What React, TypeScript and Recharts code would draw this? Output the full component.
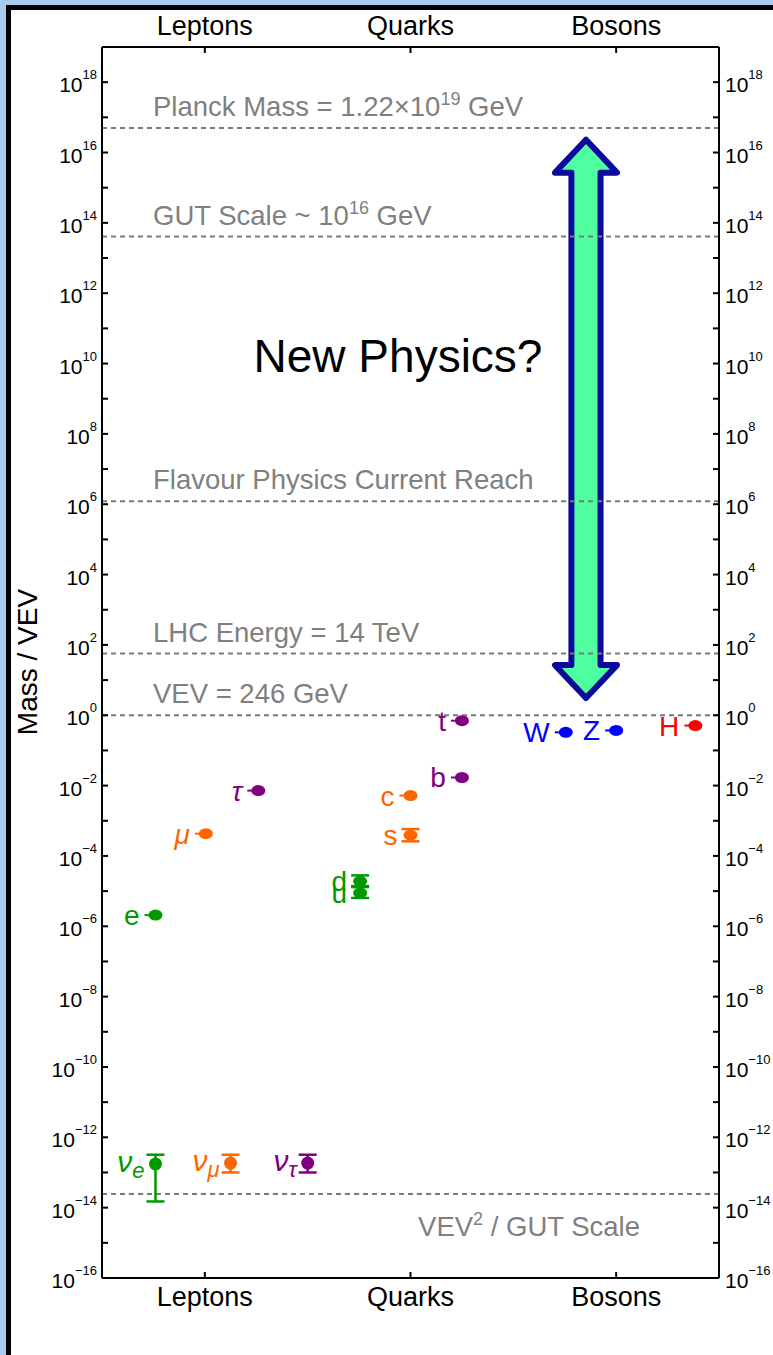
import {
  ErrorBar,
  ReferenceArea,
  ReferenceLine,
  Scatter,
  ScatterChart,
  XAxis,
  YAxis,
} from "recharts";

const FONT = "'Liberation Sans', Arial, sans-serif";

// columns of the plot
const categories = ["Leptons", "Quarks", "Bosons"];
const categorySlots = [1, 3, 5];

// decades drawn on the mass axis (labels on even ones)
const decades = [
  -16, -15, -14, -13, -12, -11, -10, -9, -8, -7, -6, -5, -4, -3, -2, -1, 0, 1,
  2, 3, 4, 5, 6, 7, 8, 9, 10, 11, 12, 13, 14, 15, 16, 17, 18,
];

// particles
const particleLabels = ["e", "μ", "τ", "ν_e", "ν_μ", "ν_τ", "d", "u", "s", "c", "b", "t", "W", "Z", "H"];
const particleSlots = [0.52, 1.01, 1.52, 0.52, 1.25, 2.0, 2.51, 2.51, 3.0, 3.0, 3.5, 3.5, 4.51, 5.0, 5.77];
const massOverVev = [
  2.08e-6, 4.3e-4, 7.2e-3, 1.75e-13, 1.85e-13, 1.85e-13, 1.9e-5, 8.9e-6,
  3.9e-4, 5.2e-3, 1.7e-2, 0.7, 0.327, 0.37, 0.51,
];
const errDown = [0, 0, 0, 1.6e-13, 0.85e-13, 0.85e-13, 0.6e-5, 2.5e-6, 1.3e-4, 0, 0, 0, 0, 0, 0];
const errUp = [0, 0, 0, 1.45e-13, 1.35e-13, 1.35e-13, 0.9e-5, 5e-6, 1.9e-4, 0, 0, 0, 0, 0, 0];
const particleFamily = [
  "green", "orange", "purple", "green", "orange", "purple", "green", "green",
  "orange", "orange", "purple", "purple", "blue", "blue", "red",
];

const families = ["green", "orange", "purple", "blue", "red"];
const familyColour: Record<string, string> = {
  green: "#009a00",
  orange: "#ff6400",
  purple: "#800080",
  blue: "#0000ff",
  red: "#ff0000",
};

// energy scales (horizontal dashed lines)
const scaleLabels = [
  "Planck Mass = 1.22×10^{19} GeV",
  "GUT Scale ~ 10^{16} GeV",
  "Flavour Physics Current Reach",
  "LHC Energy = 14 TeV",
  "VEV = 246 GeV",
  "VEV^{2} / GUT Scale",
];
const scaleValues = [4.96e16, 4.07e13, 1.22e6, 56.9, 1, 2.46e-14];

// the "new physics" double arrow
const arrowSlots = [4.405, 5.008];
const arrowRange = [3.1, 2.3e16];

const rows = particleLabels.map((label, i) => ({
  label,
  x: particleSlots[i],
  y: massOverVev[i],
  err: errDown[i] || errUp[i] ? [errDown[i], errUp[i]] : undefined,
  family: particleFamily[i],
  colour: familyColour[particleFamily[i]],
}));

function expText(exp: number) {
  return exp < 0 ? `\u2212${-exp}` : `${exp}`;
}

/** split "abc^{12} def" into normal / superscript tspans */
function withSuperscripts(s: string, size: number, supSize: number, lift: number) {
  const parts = s.split(/\^\{([^}]*)\}/);
  return parts.map((p, i) =>
    i % 2 === 1 ? (
      <tspan key={i} dy={-lift} fontSize={supSize}>
        {p}
      </tspan>
    ) : (
      <tspan key={i} dy={i === 0 ? 0 : lift} fontSize={size}>
        {p}
      </tspan>
    ),
  );
}

function MassTick(props: any) {
  const { x, y, payload, side } = props;
  const exp = Math.round(Math.log10(payload.value));
  const left = side === "left";
  return (
    <g>
      <line x1={x} x2={x + (left ? 6 : -6)} y1={y} y2={y} stroke="#000" strokeWidth={2} />
      {exp % 2 === 0 && (
        <text
          x={left ? x - 5 : x + 6}
          y={y + 10}
          textAnchor={left ? "end" : "start"}
          fontSize={21}
          fontFamily={FONT}
          fill="#000"
        >
          10
          <tspan dy={-13} fontSize={13}>
            {expText(exp)}
          </tspan>
        </text>
      )}
    </g>
  );
}

function CategoryTick(props: any) {
  const { x, y, payload, side } = props;
  const top = side === "top";
  const name = categories[categorySlots.indexOf(payload.value)];
  return (
    <g>
      <line x1={x} x2={x} y1={y} y2={y + (top ? 6 : -6)} stroke="#000" strokeWidth={2} />
      <text x={x} y={top ? y - 12 : y + 28} textAnchor="middle" fontSize={27} fontFamily={FONT} fill="#000">
        {name}
      </text>
    </g>
  );
}

function ParticleLabel({ x, y, text, colour }: { x: number; y: number; text: string; colour: string }) {
  const [main, sub] = text.split("_");
  const greek = /[μτν]/.test(main);
  return (
    <text
      x={x}
      y={y}
      textAnchor="end"
      fontSize={sub ? 30 : 28}
      fontFamily={FONT}
      fontStyle={greek ? "italic" : "normal"}
      fill={colour}
    >
      {main}
      {sub && (
        <tspan dy={6} fontSize={22} fontStyle="italic">
          {sub}
        </tspan>
      )}
    </text>
  );
}

function ParticleDot(props: any) {
  const { cx, cy, payload } = props;
  const c = payload.colour;
  const hasErr = !!payload.err;
  const neutrino = payload.label.startsWith("ν");
  return (
    <g>
      {!hasErr && <line x1={cx - 11} x2={cx} y1={cy} y2={cy} stroke={c} strokeWidth={2} />}
      {neutrino ? (
        <circle cx={cx} cy={cy} r={6.5} fill={c} />
      ) : (
        <ellipse cx={cx} cy={cy} rx={7} ry={5.5} fill={c} />
      )}
      <ParticleLabel
        x={cx - (neutrino ? 11 : hasErr ? 13 : 16)}
        y={cy + (neutrino ? 8 : 10)}
        text={payload.label}
        colour={c}
      />
    </g>
  );
}

function ScaleLabel(props: any) {
  const { viewBox, text, below } = props;
  if (!viewBox) return null;
  return (
    <text
      x={below ? viewBox.x + 538 : viewBox.x + 51}
      y={below ? viewBox.y + 42 : viewBox.y - 12}
      textAnchor={below ? "end" : "start"}
      fontFamily={FONT}
      fontSize={27.5}
      fill="#7f7f7f"
    >
      {withSuperscripts(text, 27.5, 18, 11)}
    </text>
  );
}

function DoubleArrow(props: any) {
  const { x, y, width: w, height: h } = props;
  const cx = x + w / 2;
  const head = w * 0.53;
  const half = w * 0.235;
  const pts = [
    [cx, y],
    [x + w, y + head],
    [cx + half, y + head],
    [cx + half, y + h - head],
    [x + w, y + h - head],
    [cx, y + h],
    [x, y + h - head],
    [cx - half, y + h - head],
    [cx - half, y + head],
    [x, y + head],
  ]
    .map((p) => p.join(","))
    .join(" ");
  return (
    <polygon points={pts} fill="#4dff9e" stroke="#0a0a9c" strokeWidth={6} strokeLinejoin="round" />
  );
}

function App() {
  return (
    <div
      style={{
        position: "absolute",
        left: 0,
        top: 0,
        width: 773,
        height: 1355,
        background: "#a9cbf2",
        overflow: "hidden",
        fontFamily: FONT,
      }}
    >
      <div
        style={{
          position: "absolute",
          left: 6,
          top: 5,
          width: 767,
          height: 1350,
          boxSizing: "border-box",
          borderTop: "5px solid #000",
          borderLeft: "5px solid #000",
          background: "#fff",
        }}
      />
      <div style={{ position: "absolute", left: 0, top: 0 }}>
        <ScatterChart width={773} height={1355} margin={{ top: 7, right: 4, bottom: 37, left: 42 }}>
          <XAxis
            xAxisId="bottom"
            orientation="bottom"
            type="number"
            dataKey="x"
            domain={[0, 6]}
            ticks={categorySlots}
            interval={0}
            height={40}
            tickSize={0}
            tickMargin={0}
            tickLine={false}
            axisLine={{ stroke: "#000", strokeWidth: 2 }}
            tick={(p: any) => <CategoryTick {...p} side="bottom" />}
            allowDataOverflow
          />
          <XAxis
            xAxisId="top"
            orientation="top"
            type="number"
            dataKey="x"
            domain={[0, 6]}
            ticks={categorySlots}
            interval={0}
            height={40}
            tickSize={0}
            tickMargin={0}
            tickLine={false}
            axisLine={{ stroke: "#000", strokeWidth: 2 }}
            tick={(p: any) => <CategoryTick {...p} side="top" />}
            allowDataOverflow
          />
          <YAxis
            yAxisId="left"
            orientation="left"
            type="number"
            dataKey="y"
            scale="log"
            domain={[1e-16, 1e19]}
            ticks={decades.map((d) => Number(`1e${d}`))}
            interval={0}
            width={60}
            tickSize={0}
            tickMargin={0}
            tickLine={false}
            axisLine={{ stroke: "#000", strokeWidth: 2 }}
            tick={(p: any) => <MassTick {...p} side="left" />}
            allowDataOverflow
          />
          <YAxis
            yAxisId="right"
            orientation="right"
            type="number"
            dataKey="y"
            scale="log"
            domain={[1e-16, 1e19]}
            ticks={decades.map((d) => Number(`1e${d}`))}
            interval={0}
            width={50}
            tickSize={0}
            tickMargin={0}
            tickLine={false}
            axisLine={{ stroke: "#000", strokeWidth: 2 }}
            tick={(p: any) => <MassTick {...p} side="right" />}
            allowDataOverflow
          />

          {scaleValues.map((v, i) => (
            <ReferenceLine
              key={scaleLabels[i]}
              xAxisId="bottom"
              yAxisId="left"
              y={v}
              stroke="#7a7a7a"
              strokeWidth={2}
              strokeDasharray="5 4"
              label={(p: any) => (
                <ScaleLabel viewBox={p.viewBox} text={scaleLabels[i]} below={i === scaleValues.length - 1} />
              )}
            />
          ))}

          <ReferenceArea
            xAxisId="bottom"
            yAxisId="left"
            x1={arrowSlots[0]}
            x2={arrowSlots[1]}
            y1={arrowRange[0]}
            y2={arrowRange[1]}
            shape={(p: any) => <DoubleArrow {...p} />}
          />

          {families.map((f) => (
            <Scatter
              key={f}
              xAxisId="bottom"
              yAxisId="left"
              data={rows.filter((r) => r.family === f)}
              fill={familyColour[f]}
              shape={(p: any) => <ParticleDot {...p} />}
              isAnimationActive={false}
            >
              <ErrorBar dataKey="err" direction="y" width={9} stroke={familyColour[f]} strokeWidth={2.5} />
            </Scatter>
          ))}

          {/* keeps the top / right axes bound to something */}
          <Scatter
            xAxisId="top"
            yAxisId="right"
            data={[{ x: 3, y: 1 }]}
            shape={() => <g />}
            isAnimationActive={false}
          />
        </ScatterChart>
      </div>
      <svg
        width={773}
        height={1355}
        style={{ position: "absolute", left: 0, top: 0, pointerEvents: "none" }}
      >
        <text x={398} y={372} textAnchor="middle" fontSize={46} fontFamily={FONT} fill="#000">
          New Physics?
        </text>
        <text
          transform="translate(37,662) rotate(-90)"
          textAnchor="middle"
          fontSize={28}
          fontFamily={FONT}
          fill="#000"
        >
          Mass / VEV
        </text>
      </svg>
    </div>
  );
}

export default App;
